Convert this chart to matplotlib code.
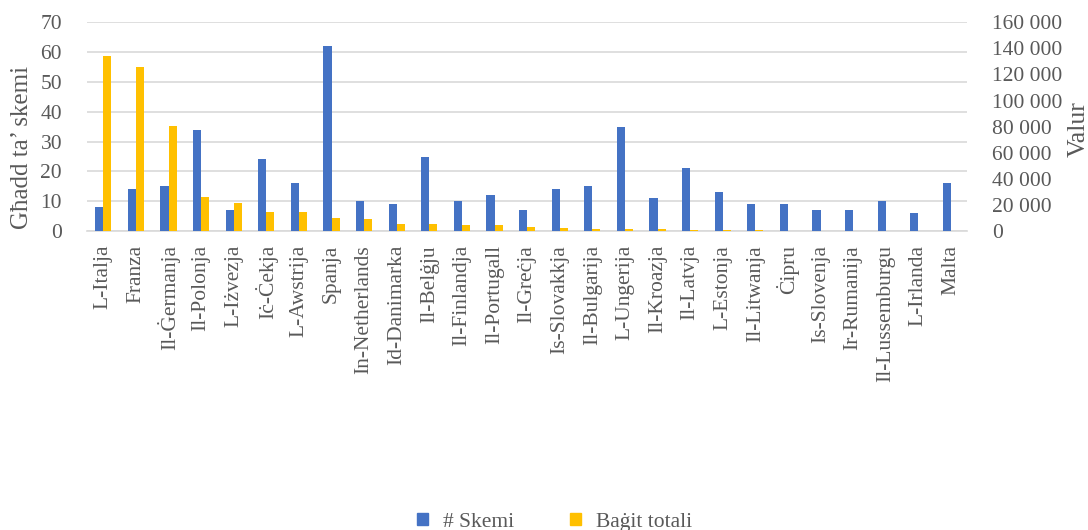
import matplotlib
matplotlib.use("Agg")
import matplotlib.pyplot as plt
import numpy as np
from matplotlib.ticker import FuncFormatter
from matplotlib.patches import Patch

plt.rcParams['font.family'] = ['Liberation Serif', 'DejaVu Serif']

countries = ["L-Italja", "Franza", "Il-Ġermanja", "Il-Polonja", "L-Iżvezja", "Iċ-Ċekja",
             "L-Awstrija", "Spanja", "In-Netherlands", "Id-Danimarka", "Il-Belġju",
             "Il-Finlandja", "Il-Portugall", "Il-Greċja", "Is-Slovakkja", "Il-Bulgarija",
             "L-Ungerija", "Il-Kroazja", "Il-Latvja", "L-Estonja", "Il-Litwanja", "Ċipru",
             "Is-Slovenja", "Ir-Rumanija", "Il-Lussemburgu", "L-Irlanda", "Malta"]
skemi = [8, 14, 15, 34, 7, 24, 16, 62, 10, 9, 25, 10, 12, 7, 14, 15, 35, 11, 21, 13,
         9, 9, 7, 7, 10, 6, 16]
bagit = [134000, 125500, 80500, 25800, 21300, 15000, 14300, 9700, 8900, 5100, 5100,
         4300, 4300, 3500, 2000, 1300, 1300, 1300, 600, 500, 600, 150, 100, 100, 100,
         50, 50]

blue = "#4472C4"
yellow = "#FFC000"
grey = "#595959"
grid = "#D9D9D9"

fig = plt.figure(figsize=(10.88, 5.30), dpi=100)
ax = fig.add_axes([0.080, 0.564, 0.809, 0.394])
ax2 = ax.twinx()

x = np.arange(len(countries))
w = 0.25
ax.bar(x - w / 2, skemi, width=w, color=blue, zorder=3)
ax2.bar(x + w / 2, bagit, width=w, color=yellow, zorder=3)

ax.set_xlim(-0.5, len(countries) - 0.5)
ax.set_ylim(0, 70)
ax.set_yticks(np.arange(0, 71, 10))
ax2.set_ylim(0, 160000)
ax2.set_yticks(np.arange(0, 160001, 20000))
ax2.yaxis.set_major_formatter(FuncFormatter(lambda v, p: f"{int(v):,}".replace(",", " ")))

ax.yaxis.grid(True, color=grid, lw=1.2, zorder=0)
ax.set_axisbelow(True)
for a in (ax, ax2):
    for s in a.spines.values():
        s.set_visible(False)
ax.spines['bottom'].set_visible(True)
ax.spines['bottom'].set_color(grid)
ax.spines['bottom'].set_linewidth(1.2)

ax.set_xticks(x)
ax.set_xticklabels(countries, rotation=90, va='top', ha='center')
ax.tick_params(axis='x', length=0, pad=10, labelsize=15.5, labelcolor=grey)
ax.tick_params(axis='y', length=0, pad=18, labelsize=15.5, labelcolor=grey)
ax2.tick_params(axis='y', length=0, pad=18, labelsize=15.5, labelcolor=grey)

ax.set_ylabel("Għadd ta’ skemi", fontsize=18, color=grey)
ax.yaxis.set_label_coords(-0.061, 0.40)
ax2.set_ylabel("Valur", fontsize=18.5, color=grey)
ax2.yaxis.set_label_coords(1.114, 0.49)

handles = [Patch(color=blue, label="# Skemi"), Patch(color=yellow, label="Baġit totali")]
fig.legend(handles=handles, loc='lower center', bbox_to_anchor=(0.51, -0.04), ncol=2,
           frameon=False, prop={'family': 'Liberation Serif', 'size': 15.5},
           handlelength=0.5, handleheight=0.5,
           columnspacing=2.6, handletextpad=0.7, labelcolor=grey)

fig.savefig("out.png", dpi=100)
